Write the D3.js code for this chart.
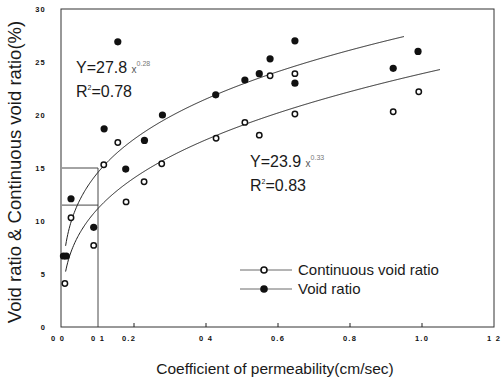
<!DOCTYPE html>
<html>
<head>
<meta charset="utf-8">
<script src="https://cdn.jsdelivr.net/npm/d3@7"></script>
<style>
  body { margin: 0; background: #fff; }
  svg text { font-family: "Liberation Sans", Arial, sans-serif; fill: #1a1a1a; }
  .tick-lab { font-size: 7.5px; font-weight: bold; letter-spacing: 1.2px; fill: #111; }
</style>
</head>
<body>
<script>
// values
var voidX = [0.004, 0.012, 0.025, 0.088, 0.117, 0.155, 0.177, 0.229, 0.279, 0.427, 0.508, 0.548, 0.578, 0.647, 0.647, 0.920, 0.989];
var voidY = [6.7, 6.7, 12.1, 9.4, 18.7, 26.9, 14.9, 17.6, 20.0, 21.9, 23.3, 23.9, 25.3, 27.0, 23.0, 24.4, 26.0];
var contX = [0.008, 0.025, 0.088, 0.116, 0.155, 0.178, 0.228, 0.277, 0.428, 0.508, 0.548, 0.578, 0.647, 0.647, 0.920, 0.991];
var contY = [4.1, 10.3, 7.7, 15.3, 17.4, 11.8, 13.7, 15.4, 17.8, 19.3, 18.1, 23.7, 23.9, 20.1, 20.3, 22.2];

// fitted power curves  Y = a * x^b   [a, b, xStart, xEnd]
var voidFit = [27.8, 0.28, 0.01, 0.95];
var contFit = [23.9, 0.33, 0.01, 1.05];

var xTicks = [0, 0.1, 0.2, 0.4, 0.6, 0.8, 1.0, 1.2];
var xTickLabels = ["0 0", "0 1", "0.2", "0 4", "0.6", "0.8", "1.0", "1 2"];
var yTicks = [0, 5, 10, 15, 20, 25, 30];

var width = 502, height = 383;
var svg = d3.select("body").append("svg")
    .attr("width", width).attr("height", height);

var x = d3.scaleLinear().domain([0, 1.2]).range([62, 494]);
var y = d3.scaleLinear().domain([0, 30]).range([327, 9]);

// frame
svg.append("rect")
    .attr("x", x(0) - 1).attr("y", y(30))
    .attr("width", x(1.2) - x(0) + 1).attr("height", y(0) - y(30))
    .attr("fill", "none").attr("stroke", "#333").attr("stroke-width", 1);

// small inward ticks on bottom axis
svg.selectAll(".xt").data(xTicks.filter(function (d) { return d >= 0.2 && d < 1.2; }))
    .enter().append("line")
    .attr("x1", function (d) { return x(d); }).attr("x2", function (d) { return x(d); })
    .attr("y1", y(0)).attr("y2", y(0) - 4)
    .attr("stroke", "#222");

// tick labels
svg.selectAll(".xl").data(xTicks).enter().append("text")
    .attr("class", "tick-lab")
    .attr("x", function (d, i) { return i == 0 ? x(d) - 4 : (i == 2 ? x(d) - 5 : x(d)); })
    .attr("y", 341)
    .attr("text-anchor", "middle")
    .text(function (d, i) { return xTickLabels[i]; });

svg.selectAll(".yl").data(yTicks).enter().append("text")
    .attr("class", "tick-lab")
    .attr("x", 46)
    .attr("y", function (d) { return y(d) + 3; })
    .attr("text-anchor", "end")
    .text(function (d) { return d; });

// reference lines at x = 0.1
var g = svg.append("g").attr("stroke", "#333").attr("stroke-width", 0.9);
g.append("line").attr("x1", x(0.1)).attr("x2", x(0.1)).attr("y1", y(0)).attr("y2", y(15));
g.append("line").attr("x1", x(0)).attr("x2", x(0.1)).attr("y1", y(15)).attr("y2", y(15));
g.append("line").attr("x1", x(0)).attr("x2", x(0.1)).attr("y1", y(11.5)).attr("y2", y(11.5));

// fit curves
function curve(fit) {
    var pts = [];
    for (var v = fit[2]; v <= fit[3] + 1e-9; v += 0.002) pts.push([v, fit[0] * Math.pow(v, fit[1])]);
    return pts;
}
var line = d3.line().x(function (d) { return x(d[0]); }).y(function (d) { return y(d[1]); });
[voidFit, contFit].forEach(function (f) {
    svg.append("path").attr("d", line(curve(f)))
        .attr("fill", "none").attr("stroke", "#222").attr("stroke-width", 1);
});

// points
svg.selectAll(".vp").data(d3.zip(voidX, voidY)).enter().append("circle")
    .attr("cx", function (d) { return x(d[0]); })
    .attr("cy", function (d) { return y(d[1]); })
    .attr("r", 3.6).attr("fill", "#111");

svg.selectAll(".cp").data(d3.zip(contX, contY)).enter().append("circle")
    .attr("cx", function (d) { return x(d[0]); })
    .attr("cy", function (d) { return y(d[1]); })
    .attr("r", 2.7).attr("fill", "#fff").attr("stroke", "#111").attr("stroke-width", 1.5);

// equations
function eq(xp, yp, a, b, r2) {
    var t = svg.append("text").attr("x", xp).attr("y", yp).style("font-size", "16px");
    t.append("tspan").text("Y=" + a + " ");
    t.append("tspan").style("font-size", "10px").style("fill", "#555").text("x");
    t.append("tspan").style("font-size", "7px").style("fill", "#777").attr("dy", -7).text(b);
    var r = svg.append("text").attr("x", xp).attr("y", yp + 24).style("font-size", "16px");
    r.append("tspan").text("R");
    r.append("tspan").style("font-size", "7px").attr("dy", -7).text("2");
    r.append("tspan").attr("dy", 7).text("=" + r2);
}
eq(76, 73, "27.8", "0.28", "0.78");
eq(250, 167, "23.9", "0.33", "0.83");

// legend
var leg = [["Continuous void ratio", false, 270], ["Void ratio", true, 289]];
leg.forEach(function (l) {
    svg.append("line").attr("x1", 240).attr("x2", 292).attr("y1", l[2]).attr("y2", l[2])
        .attr("stroke", "#444").attr("stroke-width", 0.8);
    var c = svg.append("circle").attr("cx", 264).attr("cy", l[2]);
    if (l[1]) c.attr("r", 3.8).attr("fill", "#111");
    else c.attr("r", 3).attr("fill", "#fff").attr("stroke", "#111").attr("stroke-width", 1.6);
    svg.append("text").attr("x", 298).attr("y", l[2] + 5).style("font-size", "15px").text(l[0]);
});

// axis titles
svg.append("text")
    .attr("transform", "translate(21,172) rotate(-90)")
    .attr("text-anchor", "middle")
    .style("font-size", "18.5px")
    .text("Void ratio & Continuous void ratio(%)");

svg.append("text")
    .attr("x", 275).attr("y", 374)
    .attr("text-anchor", "middle")
    .style("font-size", "15.5px")
    .text("Coefficient of permeability(cm/sec)");
</script>
</body>
</html>
